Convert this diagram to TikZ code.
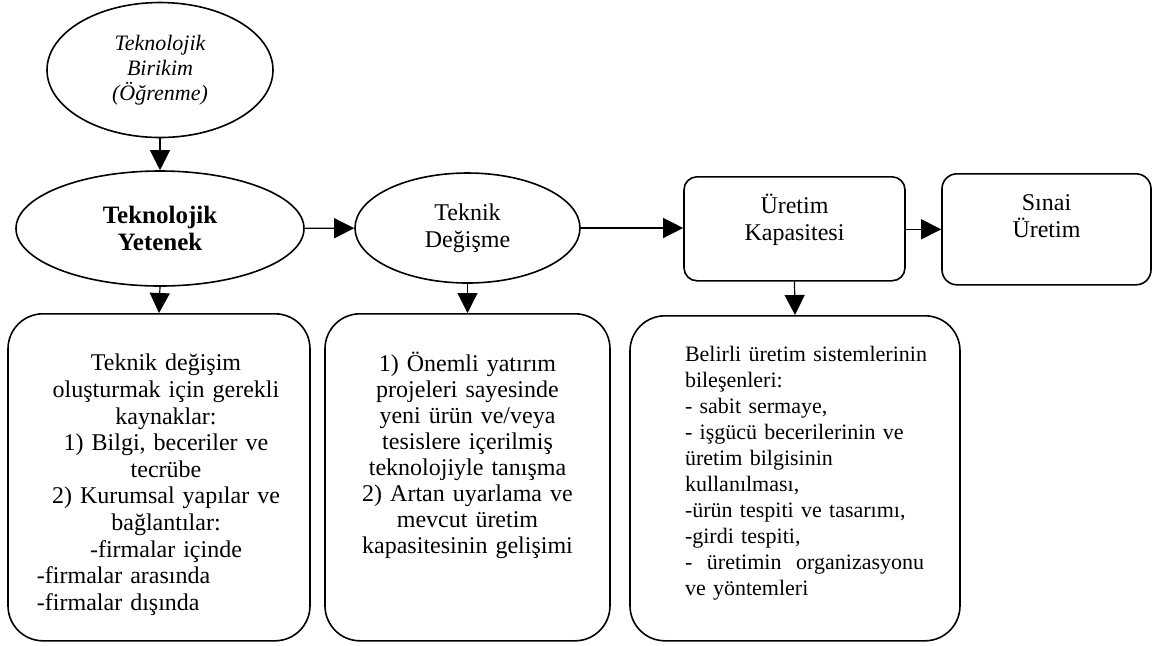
\documentclass[tikz,border=0pt]{standalone}
\usepackage{fontspec}
\setmainfont{Liberation Serif}
\usetikzlibrary{shapes.geometric,arrows.meta}

\begin{document}
\begin{tikzpicture}[x=0.5pt,y=-0.5pt]
\tikzstyle{every node}+=[inner sep=0pt]
\tikzstyle{oval}=[draw, ellipse, line width=0.8pt, align=center, font={\fontsize{12}{13.5}\selectfont}]
\tikzstyle{infobox}=[draw, rounded corners=17.5pt, line width=0.8pt, anchor=north, font={\fontsize{12}{13}\selectfont}]
\tikzstyle{stagebox}=[draw, line width=0.8pt, anchor=north, font={\fontsize{12}{13.5}\selectfont}]
\tikzstyle{arr}=[-{Triangle[length=10pt,width=10pt]}, line width=0.6pt]
\useasboundingbox (0,0) rectangle (1153,645);
% upper row
\node[oval, minimum width=113pt, minimum height=67.5pt, font={\fontsize{11}{12.5}\selectfont\itshape}] (birikim) at (160,70) {Teknolojik\\Birikim\\(Öğrenme)};
\node[oval, minimum width=144pt, minimum height=57.5pt, font={\fontsize{12.5}{13.5}\selectfont\bfseries}] (yetenek) at (160,228.5) {Teknolojik\\Yetenek};
\node[oval, minimum width=112.5pt, minimum height=55pt] (degisme) at (467.5,228) {Teknik\\Değişme};
\node[stagebox, rounded corners=6.5pt, text width=110.5pt, text height=18.5pt, text depth=33.5pt] (kapasite) at (794.5,176) {\centering Üretim\\Kapasitesi\par};
\node[stagebox, rounded corners=7.5pt, text width=104.5pt, text height=18.5pt, text depth=37pt] (sinai) at (1046.5,173) {\centering Sınai\\Üretim\par};
% lower boxes
\node[infobox, text width=151pt, text height=28.5pt, text depth=135pt, font={\fontsize{12}{13.3}\selectfont}] (kaynak) at (159,313) {\centering\leftskip=14.5pt plus 1fil\rightskip=7.5pt plus 1fil
Teknik değişim\\oluşturmak için gerekli\\kaynaklar:\\1) Bilgi, beceriler ve\\tecrübe\\2) Kurumsal yapılar ve\\bağlantılar:\\-firmalar içinde\\
\makebox[129pt][l]{-firmalar arasında}\\\makebox[129pt][l]{-firmalar dışında}\par};
\node[infobox, text width=142.5pt, text height=29pt, text depth=134.5pt] (yatirim) at (467.5,313) {\centering
1) Önemli yatırım\\projeleri sayesinde\\yeni ürün ve/veya\\tesislere içerilmiş\\teknolojiyle tanışma\\2) Artan uyarlama ve\\mevcut üretim\\kapasitesinin gelişimi\par};
\node[infobox, text width=165pt, text height=23pt, text depth=139.5pt, font={\fontsize{11}{13}\selectfont}] (bilesen) at (795,315) {\leftskip=27.5pt
Belirli üretim sistemlerinin\\bileşenleri:\\- sabit sermaye,\\- işgücü becerilerinin ve\\üretim bilgisinin\\kullanılması,\\-ürün tespiti ve tasarımı,\\-girdi tespiti,\\
\makebox[120pt][s]{- \ üretimin \ organizasyonu}\\ve yöntemleri\par};
% arrows
\draw[arr] (birikim) -- (yetenek);
\draw[arr] (yetenek) -- (degisme);
\draw[arr] (degisme) -- (kapasite.west |- degisme.east);
\draw[arr] (kapasite.east |- sinai.west) -- (sinai.west);
\draw[arr] (yetenek.south) -- (kaynak.north);
\draw[arr] (degisme.south) -- (yatirim.north);
\draw[arr] (kapasite.south) -- (bilesen.north);
\end{tikzpicture}
\end{document}
